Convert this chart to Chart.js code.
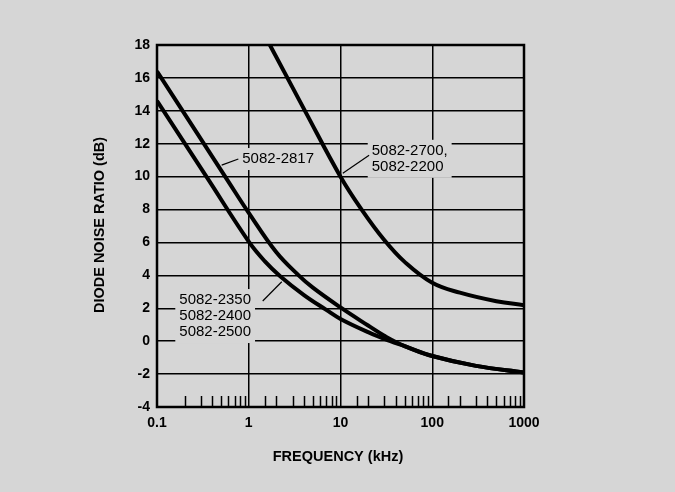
<!DOCTYPE html>
<html>
<head>
<meta charset="utf-8">
<script src="https://cdn.jsdelivr.net/npm/chart.js@4/dist/chart.umd.min.js"></script>
<style>
  html, body { margin: 0; padding: 0; background: #d6d6d6; }
  #wrap { width: 675px; height: 492px; }
</style>
</head>
<body>
<div id="wrap"><canvas id="noiseChart" width="675" height="492"></canvas></div>
<script>
// Frequency in kHz, noise ratio in dB
const freq2817 = [0.1, 0.6, 1, 2, 3.5, 5, 10, 20, 30, 50, 100, 300, 1000];
const db2817 = [16.4, 9.7, 7.8, 5.4, 4.0, 3.25, 2.05, 0.95, 0.33, -0.3, -0.9, -1.5, -1.9];

const freq2350 = [0.1, 0.35, 1, 1.5, 2.2, 4, 7, 10, 20, 35, 50, 100, 300, 1000];
const db2350 = [14.6, 9.95, 6.05, 4.85, 3.95, 2.8, 1.9, 1.35, 0.55, 0.0, -0.3, -0.9, -1.5, -1.9];

const freq2700 = [1.7, 4.1, 10, 17, 30, 50, 100, 200, 500, 1000];
const db2700 = [18, 14, 10, 8, 6.15, 4.82, 3.55, 2.95, 2.43, 2.19];

const yTicks = [-4, -2, 0, 2, 4, 6, 8, 10, 12, 14, 16, 18];

// curve labels: text lines, anchor (kHz, dB) and leader line ends
const curveLabels = [
  { lines: ["5082-2817"], x: 0.85, y: 11.07, lead: [[0.507, 10.7], [0.77, 11.07]] },
  { lines: ["5082-2700,", "5082-2200"], x: 21.9, y: 11.57, lead: [[10.6, 10.2], [20.5, 11.3]] },
  { lines: ["5082-2350", "5082-2400", "5082-2500"], x: 0.175, y: 2.5, lead: [[1.42, 2.44], [2.29, 3.61]] },
];

const BG = "#d6d6d6";
const LABEL_FONT = "15px 'Liberation Sans', Arial, sans-serif";
const LINE_H = 16;

function pairs(xs, ys) {
  return xs.map((x, i) => ({ x: x, y: ys[i] }));
}

function isDecade(v) {
  const l = Math.log10(v);
  return Math.abs(l - Math.round(l)) < 1e-6;
}

const noisePlugin = {
  id: "noisePlugin",
  beforeDraw(chart) {
    const c = chart.ctx;
    c.save();
    c.fillStyle = BG;
    c.fillRect(0, 0, chart.width, chart.height);
    c.restore();
  },
  beforeDatasetsDraw(chart) {
    // label boxes hide the grid behind the text
    const c = chart.ctx;
    const xs = chart.scales.x, ys = chart.scales.y;
    c.save();
    c.font = LABEL_FONT;
    c.fillStyle = BG;
    curveLabels.forEach((lb) => {
      const px = xs.getPixelForValue(lb.x);
      const py = ys.getPixelForValue(lb.y);
      const w = Math.max(...lb.lines.map((t) => c.measureText(t).width));
      c.fillRect(px - 4, py - LINE_H / 2 - 3, w + 8, LINE_H * lb.lines.length + 6);
    });
    c.restore();
  },
  afterDatasetsDraw(chart) {
    const c = chart.ctx;
    const a = chart.chartArea;
    const xs = chart.scales.x, ys = chart.scales.y;
    c.save();

    // minor ticks pointing up from the bottom edge
    c.strokeStyle = "#000";
    c.lineWidth = 1.5;
    xs.ticks.forEach((t) => {
      if (isDecade(t.value)) return;
      const px = Math.round(xs.getPixelForValue(t.value)) + 0.5;
      c.beginPath();
      c.moveTo(px, a.bottom);
      c.lineTo(px, a.bottom - 11);
      c.stroke();
    });

    // frame
    c.lineWidth = 2.5;
    c.strokeRect(a.left, a.top, a.right - a.left, a.bottom - a.top);

    // curve labels and leaders
    c.font = LABEL_FONT;
    c.fillStyle = "#000";
    c.textBaseline = "middle";
    c.textAlign = "left";
    c.lineWidth = 1.2;
    curveLabels.forEach((lb) => {
      const px = xs.getPixelForValue(lb.x);
      const py = ys.getPixelForValue(lb.y);
      lb.lines.forEach((t, i) => c.fillText(t, px, py + i * LINE_H));
      c.beginPath();
      c.moveTo(xs.getPixelForValue(lb.lead[0][0]), ys.getPixelForValue(lb.lead[0][1]));
      c.lineTo(xs.getPixelForValue(lb.lead[1][0]), ys.getPixelForValue(lb.lead[1][1]));
      c.stroke();
    });

    // axis titles
    c.font = "bold 14.5px 'Liberation Sans', Arial, sans-serif";
    c.textAlign = "center";
    c.fillText("FREQUENCY (kHz)", 338, 457);
    c.translate(100, 225);
    c.rotate(-Math.PI / 2);
    c.fillText("DIODE NOISE RATIO (dB)", 0, 0);
    c.restore();
  },
};

const curveStyle = {
  borderColor: "#000",
  borderWidth: 4,
  pointRadius: 0,
  fill: false,
  tension: 0.4,
};

new Chart(document.getElementById("noiseChart"), {
  type: "line",
  data: {
    datasets: [
      { label: "5082-2817", data: pairs(freq2817, db2817), ...curveStyle },
      { label: "5082-2350", data: pairs(freq2350, db2350), ...curveStyle },
      { label: "5082-2700", data: pairs(freq2700, db2700), ...curveStyle },
    ],
  },
  options: {
    responsive: false,
    animation: false,
    layout: { padding: { top: 45, right: 151, left: 0, bottom: 0 } },
    plugins: { legend: { display: false }, tooltip: { enabled: false } },
    scales: {
      x: {
        type: "logarithmic",
        min: 0.1,
        max: 1000,
        afterFit: (s) => { s.height = 85; },
        border: { display: false },
        grid: {
          drawTicks: false,
          lineWidth: 1.5,
          color: (ctx) => (ctx.tick && isDecade(ctx.tick.value) ? "#000" : "rgba(0,0,0,0)"),
        },
        ticks: {
          autoSkip: false,
          maxRotation: 0,
          padding: 8,
          color: "#000",
          font: { family: "'Liberation Sans', Arial, sans-serif", size: 14, weight: "bold" },
          callback: (v) => {
            if (!isDecade(v)) return "";
            const e = Math.round(Math.log10(v));
            return e < 0 ? "0.1" : String(Math.pow(10, e));
          },
        },
      },
      y: {
        min: -4,
        max: 18,
        afterFit: (s) => { s.width = 157; },
        afterBuildTicks: (s) => { s.ticks = yTicks.map((v) => ({ value: v })); },
        border: { display: false },
        grid: { drawTicks: false, lineWidth: 1.5, color: "#000" },
        ticks: {
          padding: 7,
          color: "#000",
          font: { family: "'Liberation Sans', Arial, sans-serif", size: 14, weight: "bold" },
        },
      },
    },
  },
  plugins: [noisePlugin],
});
</script>
</body>
</html>
